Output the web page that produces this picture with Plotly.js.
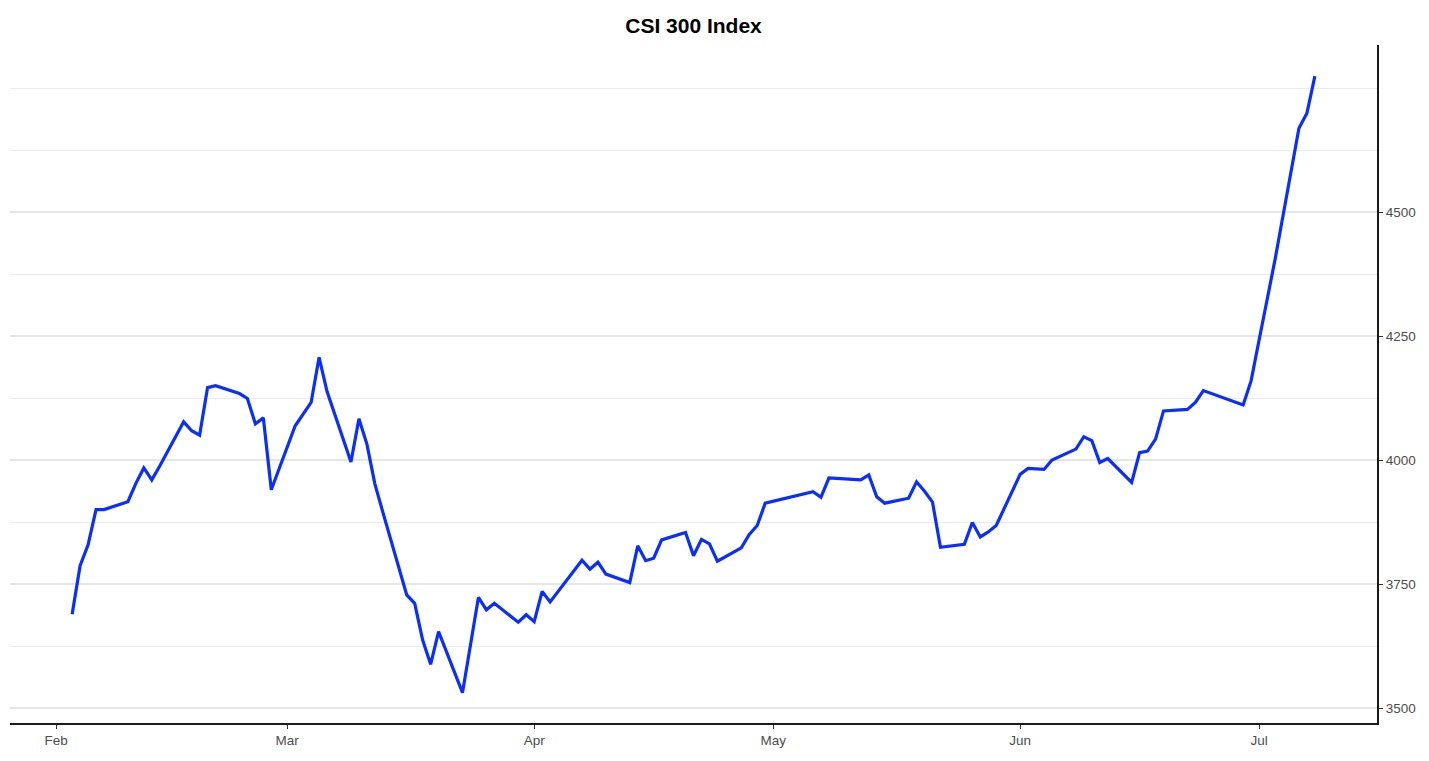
<!DOCTYPE html>
<html>
<head>
<meta charset="utf-8">
<script src="https://cdn.plot.ly/plotly-3.0.1.min.js"></script>
<style>
  html, body { margin: 0; padding: 0; background: #ffffff; }
  #chart { width: 1429px; height: 761px; }
</style>
</head>
<body>
<div id="chart"></div>
<script>
const dates = [
  "2020-02-03","2020-02-04","2020-02-05","2020-02-06","2020-02-07",
  "2020-02-10","2020-02-11","2020-02-12","2020-02-13","2020-02-14",
  "2020-02-17","2020-02-18","2020-02-19","2020-02-20","2020-02-21",
  "2020-02-24","2020-02-25","2020-02-26","2020-02-27","2020-02-28",
  "2020-03-02","2020-03-03","2020-03-04","2020-03-05","2020-03-06",
  "2020-03-09","2020-03-10","2020-03-11","2020-03-12","2020-03-13",
  "2020-03-16","2020-03-17","2020-03-18","2020-03-19","2020-03-20",
  "2020-03-23","2020-03-24","2020-03-25","2020-03-26","2020-03-27",
  "2020-03-30","2020-03-31","2020-04-01","2020-04-02","2020-04-03",
  "2020-04-07","2020-04-08","2020-04-09","2020-04-10",
  "2020-04-13","2020-04-14","2020-04-15","2020-04-16","2020-04-17",
  "2020-04-20","2020-04-21","2020-04-22","2020-04-23","2020-04-24",
  "2020-04-27","2020-04-28","2020-04-29","2020-04-30",
  "2020-05-06","2020-05-07","2020-05-08",
  "2020-05-11","2020-05-12","2020-05-13","2020-05-14","2020-05-15",
  "2020-05-18","2020-05-19","2020-05-20","2020-05-21","2020-05-22",
  "2020-05-25","2020-05-26","2020-05-27","2020-05-28","2020-05-29",
  "2020-06-01","2020-06-02","2020-06-03","2020-06-04","2020-06-05",
  "2020-06-08","2020-06-09","2020-06-10","2020-06-11","2020-06-12",
  "2020-06-15","2020-06-16","2020-06-17","2020-06-18","2020-06-19",
  "2020-06-22","2020-06-23","2020-06-24",
  "2020-06-29","2020-06-30","2020-07-01","2020-07-02","2020-07-03",
  "2020-07-06","2020-07-07","2020-07-08"
];

const closeValues = [
  3689, 3787, 3829, 3900, 3900,
  3916, 3953, 3984, 3960, 3988,
  4077, 4059, 4050, 4146, 4150,
  4134, 4124, 4073, 4085, 3940,
  4069, 4092, 4116, 4207, 4138,
  3996, 4083, 4032, 3952, 3895,
  3728, 3711, 3637, 3588, 3654,
  3531, 3627, 3723, 3698, 3711,
  3673, 3688, 3674, 3735, 3714,
  3798, 3780, 3794, 3770,
  3753, 3827, 3797, 3802, 3839,
  3854, 3807, 3840, 3831, 3796,
  3823, 3850, 3868, 3913,
  3936, 3925, 3964,
  3961, 3960, 3970, 3926, 3913,
  3923, 3956, 3937, 3915, 3824,
  3830, 3874, 3845, 3855, 3868,
  3971, 3983, 3982, 3981, 4000,
  4022, 4047, 4039, 3995, 4003,
  3955, 4015, 4018, 4042, 4099,
  4102, 4116, 4140,
  4111, 4160, 4242, 4325, 4404,
  4669, 4699, 4774
];

const yTickValues = [3500, 3750, 4000, 4250, 4500];
const yTickLabels = ["3500", "3750", "4000", "4250", "4500"];
const yMinorValues = [3625, 3875, 4125, 4375, 4625, 4750];
const xTickValues = ["2020-02-01","2020-03-01","2020-04-01","2020-05-01","2020-06-01","2020-07-01"];
const xTickLabels = ["Feb","Mar","Apr","May","Jun","Jul"];

const FONT = "Liberation Sans, Arial, Helvetica, sans-serif";

const trace = {
  x: dates,
  y: closeValues,
  type: "scatter",
  mode: "lines",
  line: { color: "#0A2EFF", width: 3.2 },
  hoverinfo: "x+y",
  showlegend: false
};

const layout = {
  width: 1429,
  height: 761,
  paper_bgcolor: "#ffffff",
  plot_bgcolor: "#ffffff",
  margin: { l: 10, r: 52, t: 45, b: 38, pad: 0 },
  title: {
    text: "<b>CSI 300 Index</b>",
    font: { family: FONT, size: 21, color: "#000000" },
    x: 0.5, xref: "paper", xanchor: "center",
    y: 1 - 26 / 761, yref: "container", yanchor: "middle"
  },
  xaxis: {
    type: "date",
    range: ["2020-01-26 04:48", "2020-07-15 19:12"],
    tickmode: "array",
    tickvals: xTickValues,
    ticktext: xTickLabels,
    showgrid: false,
    zeroline: false,
    showline: true,
    linecolor: "#1a1a1a",
    linewidth: 2,
    ticks: "outside",
    ticklen: 4,
    tickwidth: 1,
    tickcolor: "#333333",
    tickfont: { family: FONT, size: 13.5, color: "#4D4D4D" },
    fixedrange: true
  },
  yaxis: {
    side: "right",
    range: [3469.8, 4836.7],
    tickmode: "array",
    tickvals: yTickValues,
    ticktext: yTickLabels,
    showgrid: true,
    gridcolor: "#E6E6E6",
    gridwidth: 1.5,
    minor: {
      tickmode: "array",
      tickvals: yMinorValues,
      showgrid: true,
      gridcolor: "#EBEBEB",
      gridwidth: 1.3,
      ticks: ""
    },
    zeroline: false,
    showline: true,
    linecolor: "#1a1a1a",
    linewidth: 2,
    ticks: "outside",
    ticklen: 4,
    tickwidth: 1,
    tickcolor: "#333333",
    tickfont: { family: FONT, size: 13.5, color: "#4D4D4D" },
    fixedrange: true
  }
};

Plotly.newPlot("chart", [trace], layout, { displayModeBar: false });
</script>
</body>
</html>
